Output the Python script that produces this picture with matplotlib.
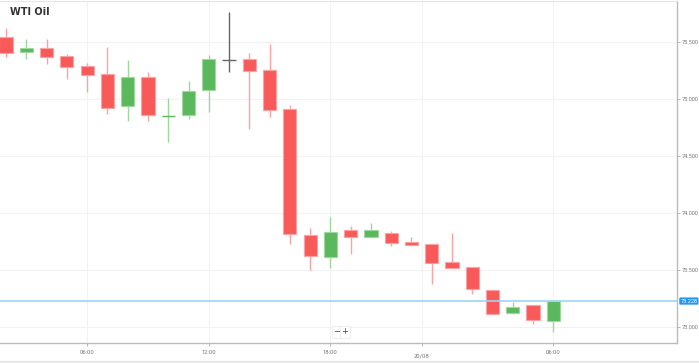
import matplotlib
matplotlib.use("Agg")
import matplotlib.pyplot as plt
import numpy as np

# hourly candles, 19/08 00:00 .. 20/08 06:00 (23:00 missing)
opens  = [75.544, 75.413, 75.448, 75.378, 75.290, 75.220, 74.939, 75.193, 74.850, 74.860,
          75.079, 75.342, 75.351, 75.255, 74.913, 73.807, 73.614, 73.851, 73.789, 73.825,
          73.746, 73.728, 73.570, 73.526, 73.325, 73.123, 73.193, 73.053]
highs  = [75.623, 75.527, 75.527, 75.395, 75.316, 75.456, 75.342, 75.237, 75.009, 75.158,
          75.386, 75.764, 75.404, 75.483, 74.948, 73.869, 73.965, 73.886, 73.913, 73.842,
          73.789, 73.728, 73.825, 73.526, 73.333, 73.219, 73.193, 73.228]
lows   = [75.369, 75.351, 75.307, 75.176, 75.062, 74.869, 74.807, 74.807, 74.623, 74.825,
          74.886, 75.237, 74.737, 74.842, 73.728, 73.500, 73.518, 73.641, 73.781, 73.711,
          73.719, 73.377, 73.518, 73.290, 73.105, 73.114, 73.026, 72.956]
closes = [75.404, 75.448, 75.369, 75.281, 75.211, 74.921, 75.193, 74.860, 74.852, 75.070,
          75.351, 75.342, 75.246, 74.904, 73.816, 73.623, 73.833, 73.789, 73.851, 73.737,
          73.719, 73.562, 73.518, 73.333, 73.114, 73.175, 73.061, 73.228]

xtick_pos = [4, 10, 16, 27]
xtick_labels = ["06:00", "12:00", "18:00", "06:00"]
date_pos = 20.5
date_label = "20/08"
yticks = [73.0, 73.5, 74.0, 74.5, 75.0, 75.5]
last_price = "73.228"

RED = "#f85a5a"
RED_EDGE = "#fba3a3"
GREEN = "#5cb85c"
GREEN_EDGE = "#9fd89f"
GRAY = "#666666"
TICKFONT = "Roboto"

fig = plt.figure(figsize=(6.99, 3.63), dpi=100)
ax = fig.add_axes([0.0, 20 / 363, 677 / 699, 342 / 363])

x = np.arange(len(opens))
for i in x:
    o, h, l, c = opens[i], highs[i], lows[i], closes[i]
    if abs(c - o) < 0.005:
        col = GRAY if i == 11 else GREEN
        wcol = GRAY if i == 11 else GREEN_EDGE
        ax.vlines(i, l, h, color=wcol, lw=1.0, zorder=2)
        ax.hlines(o, i - 0.33, i + 0.33, color=col, lw=1.0, zorder=3)
        continue
    up = c > o
    face = GREEN if up else RED
    edge = GREEN_EDGE if up else RED_EDGE
    ax.vlines(i, l, h, color=edge, lw=1.0, zorder=2)
    ax.bar(i, abs(c - o), bottom=min(o, c), width=0.65, color=face,
           edgecolor=edge, linewidth=0.8, zorder=3)

ax.set_xlim(-0.3, 33.1)
ax.set_ylim(72.86, 75.86)

ax.axhline(float(last_price), color="#9fd3f5", lw=1.2, zorder=4)

ax.yaxis.tick_right()
ax.set_yticks(yticks)
ax.set_yticklabels(["%.3f" % v for v in yticks], fontsize=4, color="#777777", family=TICKFONT)
ax.set_xticks(xtick_pos + [date_pos])
ax.set_xticklabels(xtick_labels + [""], fontsize=4.2, color="#777777", family=TICKFONT)
ax.tick_params(axis="y", length=2, width=0.6, color="#aaaaaa", pad=1.5)
ax.tick_params(axis="x", length=2, width=0.6, color="#aaaaaa", pad=3)
ax.text(date_pos, -0.03, date_label, transform=ax.get_xaxis_transform(),
        ha="center", va="top", fontsize=4.2, color="#777777", family=TICKFONT)

for v in yticks:
    ax.axhline(v, color="#f2f2f2", lw=0.8, zorder=0)
for v in xtick_pos + [date_pos]:
    ax.axvline(v, color="#f2f2f2", lw=0.8, zorder=0)

ax.spines["left"].set_visible(False)
ax.spines["top"].set_color("#e6e6e6")
ax.spines["right"].set_color("#bbbbbb")
ax.spines["bottom"].set_color("#bbbbbb")
ax.spines["right"].set_linewidth(1.0)
ax.spines["bottom"].set_linewidth(1.0)

# price label
ax.text(1.005, float(last_price), last_price, transform=ax.get_yaxis_transform(),
        ha="left", va="center", fontsize=4, color="white", family=TICKFONT,
        bbox=dict(boxstyle="round,pad=0.2", fc="#2196f3", ec="none"))

ax.text(10 / 677, 1 - 11 / 342, "WTI Oil", transform=ax.transAxes, ha="left", va="center",
        fontsize=7, fontweight="bold", color="#333333")

# zoom buttons
for xp, s in [(337, "\u2212"), (345, "+")]:
    fig.text(xp / 699, 1 - 332 / 363, s, ha="center", va="center", fontsize=6,
             color="#444444", bbox=dict(boxstyle="square,pad=0.15", fc="white", ec="#e8e8e8", lw=0.5))

fig.patches.append(plt.Rectangle((0, 0), 1, 2 / 363, transform=fig.transFigure,
                                 color="#e8e8e8", zorder=0))

fig.savefig("out.png", dpi=100)
